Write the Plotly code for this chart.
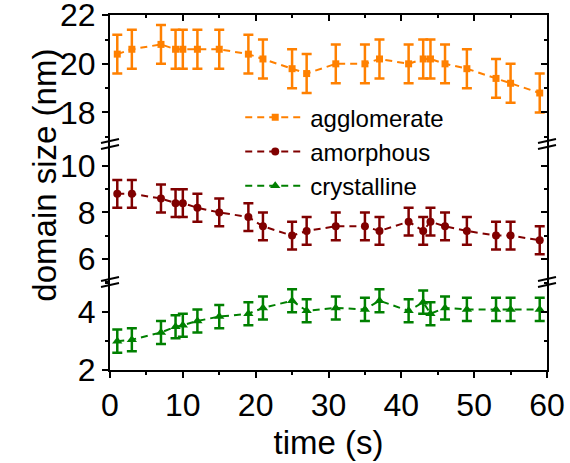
import plotly.graph_objects as go

# ---- data ----
time_s = [1, 3, 7, 9, 10, 12, 15, 19, 21, 25, 27, 31, 35, 37, 41, 43, 44, 46, 49, 53, 55, 59]
agglomerate = [20.4, 20.6, 20.8, 20.6, 20.6, 20.6, 20.6, 20.4, 20.2, 19.8, 19.6, 20.0,
               20.0, 20.2, 20.0, 20.2, 20.2, 20.0, 19.8, 19.4, 19.2, 18.8]
agglomerate_err = [0.8, 0.8, 0.8, 0.8, 0.8, 0.8, 0.8, 0.8, 0.8, 0.8, 0.8, 0.8,
                   0.8, 0.8, 0.8, 0.8, 0.8, 0.8, 0.8, 0.8, 0.8, 0.8]
amorphous = [8.8, 8.8, 8.6, 8.4, 8.4, 8.2, 8.0, 7.8, 7.4, 7.0, 7.2, 7.4,
             7.4, 7.2, 7.6, 7.2, 7.6, 7.4, 7.2, 7.0, 7.0, 6.8]
amorphous_err = [0.6, 0.6, 0.6, 0.6, 0.6, 0.6, 0.6, 0.6, 0.6, 0.6, 0.6, 0.6,
                 0.6, 0.6, 0.6, 0.6, 0.6, 0.6, 0.6, 0.6, 0.6, 0.6]
crystalline = [3.0, 3.05, 3.3, 3.5, 3.55, 3.7, 3.85, 3.95, 4.15, 4.4, 4.05, 4.15,
               4.1, 4.4, 4.05, 4.35, 3.95, 4.15, 4.1, 4.1, 4.1, 4.1]
crystalline_err = [0.4, 0.4, 0.4, 0.4, 0.4, 0.4, 0.4, 0.4, 0.4, 0.4, 0.4, 0.4,
                   0.4, 0.4, 0.4, 0.4, 0.4, 0.4, 0.4, 0.4, 0.4, 0.4]

x_ticks = [0, 10, 20, 30, 40, 50, 60]
y_top_ticks = [18, 20, 22]
y_mid_ticks = [6, 8, 10]
y_bot_ticks = [2, 4]

FONT = "Arial, Liberation Sans, sans-serif"
ORANGE = "#FF8000"
DARKRED = "#800000"
GREEN = "#008000"
TICK_SIZE = 32
TITLE_SIZE = 33

# segment domains / ranges
bot_dom = [0.0, 0.248]
mid_dom = [0.248, 0.6366]
top_dom = [0.6366, 1.0]
bot_rng = [2.0, 5.05]
mid_rng = [5.0, 10.95]
top_rng = [16.7, 22.01]

fig = go.Figure()


def series(name, y, err, color, symbol, size, yaxis):
    fig.add_trace(go.Scatter(
        x=time_s, y=y, name=name, mode="lines+markers", yaxis=yaxis,
        line=dict(color=color, width=2, dash="7px,5px"),
        marker=dict(color=color, symbol=symbol, size=size),
        error_y=dict(type="data", array=err, visible=True, color=color,
                     thickness=2.5, width=5),
    ))


series("agglomerate", agglomerate, agglomerate_err, ORANGE, "square", 7, "y3")
series("amorphous", amorphous, amorphous_err, DARKRED, "circle", 8, "y2")
series("crystalline", crystalline, crystalline_err, GREEN, "triangle-up", 9, "y")

# invisible helper traces so the mirrored (inside-tick) axes get drawn
for xa, ya in [("x2", "y3"), ("x", "y4"), ("x", "y5"), ("x", "y6")]:
    fig.add_trace(go.Scatter(x=[None], y=[None], xaxis=xa, yaxis=ya,
                             showlegend=False, hoverinfo="skip"))

common_axis = dict(showline=True, linecolor="black", linewidth=2, showgrid=False,
                   zeroline=False, tickcolor="black", tickwidth=2, automargin=False,
                   ticklabeloverflow="allow",
                   tickfont=dict(family=FONT, size=TICK_SIZE, color="black"))


def yaxis(dom, rng, ticks, side="left", overlay=None, anchor="x"):
    d = dict(common_axis)
    d.update(domain=dom, range=rng, tickmode="array", tickvals=ticks,
             ticks="outside" if side == "left" else "inside", ticklen=6,
             minor=dict(dtick=1, tick0=0, ticks="outside" if side == "left" else "inside",
                        ticklen=3, tickwidth=2, tickcolor="black", showgrid=False),
             side=side, anchor=anchor)
    if side == "right":
        d.update(showticklabels=False, overlaying=overlay)
        d.pop("domain")
    return d


fig.update_layout(
    width=570, height=463,
    margin=dict(l=110, r=23, t=15, b=93, autoexpand=False),
    paper_bgcolor="white", plot_bgcolor="white",
    font=dict(family=FONT, color="black"),
    showlegend=True,
    legend=dict(x=0.298, y=0.774, xanchor="left", yanchor="top",
                bgcolor="rgba(0,0,0,0)", font=dict(family=FONT, size=24, color="black"),
                tracegroupgap=0, itemwidth=60),
    xaxis=dict(common_axis, range=[0, 60], tickmode="array", tickvals=x_ticks,
               ticks="outside", ticklen=6, anchor="y",
               minor=dict(dtick=5, tick0=0, ticks="outside", ticklen=3, tickwidth=2,
                          tickcolor="black", showgrid=False),
               title=dict(text="time (s)", font=dict(family=FONT, size=TITLE_SIZE, color="black"),
                          standoff=8)),
    xaxis2=dict(common_axis, range=[0, 60], tickmode="array", tickvals=x_ticks,
                ticks="inside", ticklen=6, overlaying="x", side="top", anchor="y3",
                showticklabels=False,
                minor=dict(dtick=5, tick0=0, ticks="inside", ticklen=3, tickwidth=2,
                           tickcolor="black", showgrid=False)),
    yaxis=yaxis(bot_dom, bot_rng, y_bot_ticks),
    yaxis2=yaxis(mid_dom, mid_rng, y_mid_ticks),
    yaxis3=yaxis(top_dom, top_rng, y_top_ticks),
    yaxis4=yaxis(bot_dom, bot_rng, y_bot_ticks, side="right", overlay="y"),
    yaxis5=yaxis(mid_dom, mid_rng, y_mid_ticks, side="right", overlay="y2"),
    yaxis6=yaxis(top_dom, top_rng, y_top_ticks, side="right", overlay="y3"),
)

fig.add_annotation(text="domain size (nm)", xref="paper", yref="paper",
                   x=-0.149, y=0.55, xanchor="center", yanchor="middle",
                   textangle=-90, showarrow=False,
                   font=dict(family=FONT, size=TITLE_SIZE, color="black"))

# axis-break marks
for xb in (0, 1):
    for yb in (bot_dom[1], mid_dom[1]):
        for off in (-3, 3):
            fig.add_shape(type="line", xref="paper", yref="paper",
                          xsizemode="pixel", ysizemode="pixel",
                          xanchor=xb, yanchor=yb,
                          x0=-9, x1=9, y0=off - 2, y1=off + 2,
                          line=dict(color="black", width=2))

# remove the browser's default page margin so the figure fills the window
fig.write_html("out.html",
               config={"displayModeBar": False},
               post_script="document.body.style.margin='0';document.body.style.overflow='hidden';")
